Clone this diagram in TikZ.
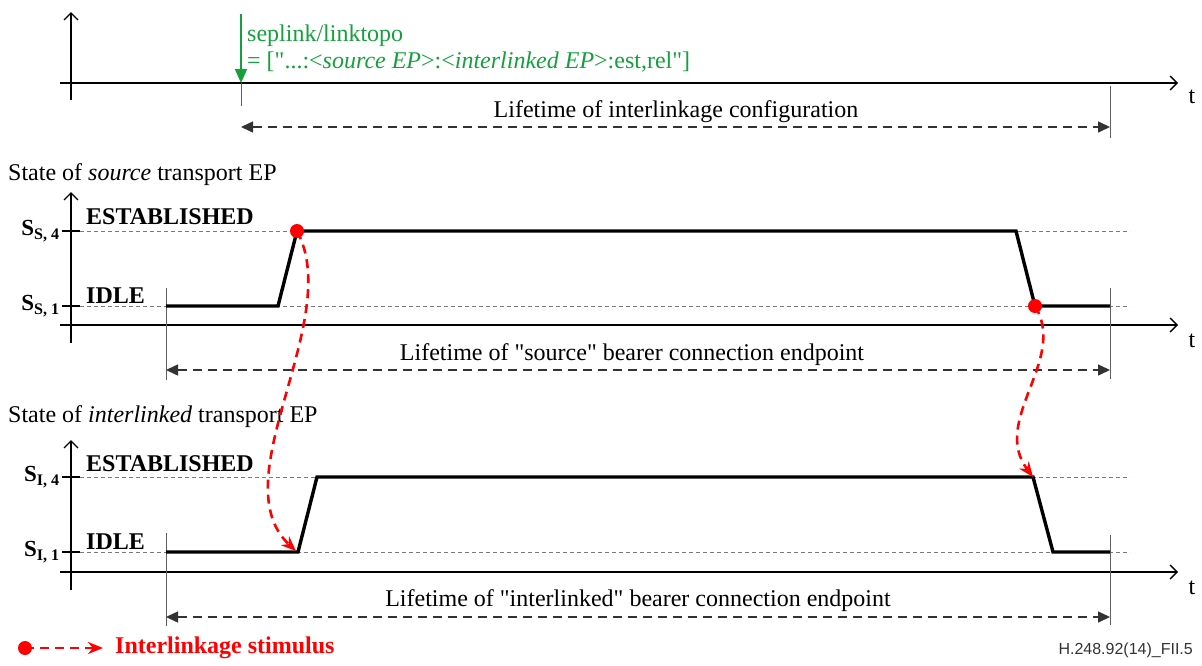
\documentclass[tikz,border=0pt]{standalone}
\usepackage{fontspec}
\setmainfont{Liberation Serif}
\newfontfamily\labelsans{Liberation Sans}
\usetikzlibrary{arrows.meta}
\definecolor{sigred}{RGB}{255,0,0}
\definecolor{cmdgreen}{RGB}{20,160,60}
\definecolor{guide}{RGB}{120,120,120}
\newcommand{\dq}{\textquotedbl}
\begin{document}
\begin{tikzpicture}[x=1pt,y=-1pt,
  txt/.style={font=\fontsize{24}{27}\selectfont, inner sep=0pt},
  statelbl/.style={font=\fontsize{24}{27}\selectfont\bfseries, inner sep=0pt, anchor=base west},
  levellbl/.style={font=\fontsize{23}{26}\selectfont\bfseries, inner sep=0pt, anchor=east},
  axis/.style={line width=1.4pt, -{Straight Barb[length=7pt,width=14pt,line width=1.4pt]}},
  tickline/.style={line width=0.8pt, guide!80!black},
  levelguide/.style={line width=0.7pt, guide, dash pattern=on 4pt off 3pt},
  lifetime/.style={line width=1.5pt, black!80, dash pattern=on 9pt off 6pt,
     {Triangle[length=12pt,width=11pt]}-{Triangle[length=12pt,width=11pt]}},
  signal/.style={line width=3.4pt, line join=miter},
  stimulus/.style={line width=2.6pt, sigred, dash pattern=on 9pt off 6pt,
     -{Stealth[length=15pt,width=12pt]}},
  dot/.style={circle, fill=sigred, minimum size=14pt, inner sep=0pt},
  tlbl/.style={font=\fontsize{24}{27}\selectfont, inner sep=0pt}]

\useasboundingbox (0,0) rectangle (1202,665);

% ---------------- configuration timeline ----------------
\coordinate (a0b) at (71,100); \coordinate (a0t) at (71,12);
\coordinate (t0l) at (60,83);  \coordinate (t0r) at (1178,83);
\draw[axis] (a0b) -- (a0t);
\draw[axis] (t0l) -- (t0r);
\node[tlbl] (t0) at (1192,97) {t};

\coordinate (cmdtop) at (241,14); \coordinate (cmdhit) at (241,83);
\coordinate (cmdtick) at (241,106);
\draw[tickline] (cmdhit) -- (cmdtick);
\draw[cmdgreen, line width=2pt, -{Triangle[length=14pt,width=12pt]}] (cmdtop) -- (cmdhit);
\node[txt, cmdgreen, anchor=base west] (cmd1) at (247,41) {seplink/linktopo};
\node[txt, cmdgreen, anchor=base west] (cmd2) at (247,68) {= [\dq...:<\textit{source EP}>:<\textit{interlinked EP}>:est,rel\dq]};

\coordinate (cfgtickt) at (1110,86); \coordinate (cfgtickb) at (1110,138);
\draw[tickline] (cfgtickt) -- (cfgtickb);
\coordinate (cfgstart) at (241,127); \coordinate (cfgend) at (1110,127);
\draw[lifetime] (cfgstart) -- (cfgend);
\node[txt] (cfglbl) at (676,112) {Lifetime of interlinkage configuration};

% ---------------- source transport EP ----------------
\node[txt, anchor=base west] (srctitle) at (8,180) {State of \textit{source} transport EP};
\coordinate (a1b) at (71,343); \coordinate (a1t) at (71,192);
\coordinate (t1l) at (60,325);  \coordinate (t1r) at (1178,325);
\draw[axis] (a1b) -- (a1t);
\draw[axis] (t1l) -- (t1r);
\node[tlbl] (t1) at (1192,341) {t};

\coordinate (s4l) at (62,231); \coordinate (s4m) at (80,231); \coordinate (s4r) at (1130,231);
\coordinate (s1l) at (62,306); \coordinate (s1m) at (80,306); \coordinate (s1r) at (1130,306);
\draw[levelguide] (s4m) -- (s4r);
\draw[levelguide] (s1m) -- (s1r);
\draw[line width=1.2pt] (s4l) -- (s4m);
\draw[line width=1.2pt] (s1l) -- (s1m);
\node[levellbl] (ss4) at (60,231) {S\textsubscript{S, 4}};
\node[levellbl] (ss1) at (60,306) {S\textsubscript{S, 1}};
\node[statelbl] (est1) at (86,224) {ESTABLISHED};
\node[statelbl] (idle1) at (86,303) {IDLE};

\draw[tickline] (166,288) -- (166,380);
\draw[tickline] (1110,288) -- (1110,379);
\draw[signal] (166,306) -- (278,306) -- (297,231) -- (1016,231) -- (1035,306) -- (1110,306);

\coordinate (srcstart) at (166,370); \coordinate (srcend) at (1110,370);
\draw[lifetime] (srcstart) -- (srcend);
\node[txt] (srclbl) at (632,355) {Lifetime of \dq source\dq{} bearer connection endpoint};

% ---------------- interlinked transport EP ----------------
\node[txt, anchor=base west] (iltitle) at (8,422) {State of \textit{interlinked} transport EP};
\coordinate (a2b) at (71,590); \coordinate (a2t) at (71,440);
\coordinate (t2l) at (60,572);  \coordinate (t2r) at (1178,572);
\draw[axis] (a2b) -- (a2t);
\draw[axis] (t2l) -- (t2r);
\node[tlbl] (t2) at (1192,588) {t};

\coordinate (i4l) at (62,477); \coordinate (i4m) at (80,477); \coordinate (i4r) at (1130,477);
\coordinate (i1l) at (62,552); \coordinate (i1m) at (80,552); \coordinate (i1r) at (1130,552);
\draw[levelguide] (i4m) -- (i4r);
\draw[levelguide] (i1m) -- (i1r);
\draw[line width=1.2pt] (i4l) -- (i4m);
\draw[line width=1.2pt] (i1l) -- (i1m);
\node[levellbl] (si4) at (60,477) {S\textsubscript{I, 4}};
\node[levellbl] (si1) at (60,552) {S\textsubscript{I, 1}};
\node[statelbl] (est2) at (86,471) {ESTABLISHED};
\node[statelbl] (idle2) at (86,549) {IDLE};

\draw[tickline] (166,533) -- (166,626);
\draw[tickline] (1110,535) -- (1110,625);
\draw[signal] (166,552) -- (298,552) -- (317,477) -- (1033,477) -- (1053,552) -- (1110,552);

\coordinate (ilstart) at (166,617); \coordinate (ilend) at (1110,617);
\draw[lifetime] (ilstart) -- (ilend);
\node[txt] (illbl) at (638,601) {Lifetime of \dq interlinked\dq{} bearer connection endpoint};

% ---------------- interlinkage stimuli ----------------
\node[dot] (stimA) at (297,231) {};
\node[dot] (stimB) at (1035,306) {};
\coordinate (respA) at (296,551);
\coordinate (respB) at (1033,477);
\draw[stimulus] (stimA.center) .. controls (345,320) and (220,480) .. (respA);
\draw[stimulus] (stimB.center) .. controls (1068,360) and (990,420) .. (respB);

% ---------------- legend ----------------
\node[dot] (legdot) at (25,648) {};
\coordinate (legtip) at (103,648);
\draw[stimulus] (legdot.center) -- (legtip);
\node[txt, sigred, font=\fontsize{24}{27}\selectfont\bfseries, anchor=west] (legtxt) at (115,648) {Interlinkage stimulus};
\node[inner sep=0pt, anchor=east, font=\labelsans\fontsize{16}{18}\selectfont, black!80] (figid) at (1193,650) {H.248.92(14)\_FII.5};

\end{tikzpicture}
\end{document}
